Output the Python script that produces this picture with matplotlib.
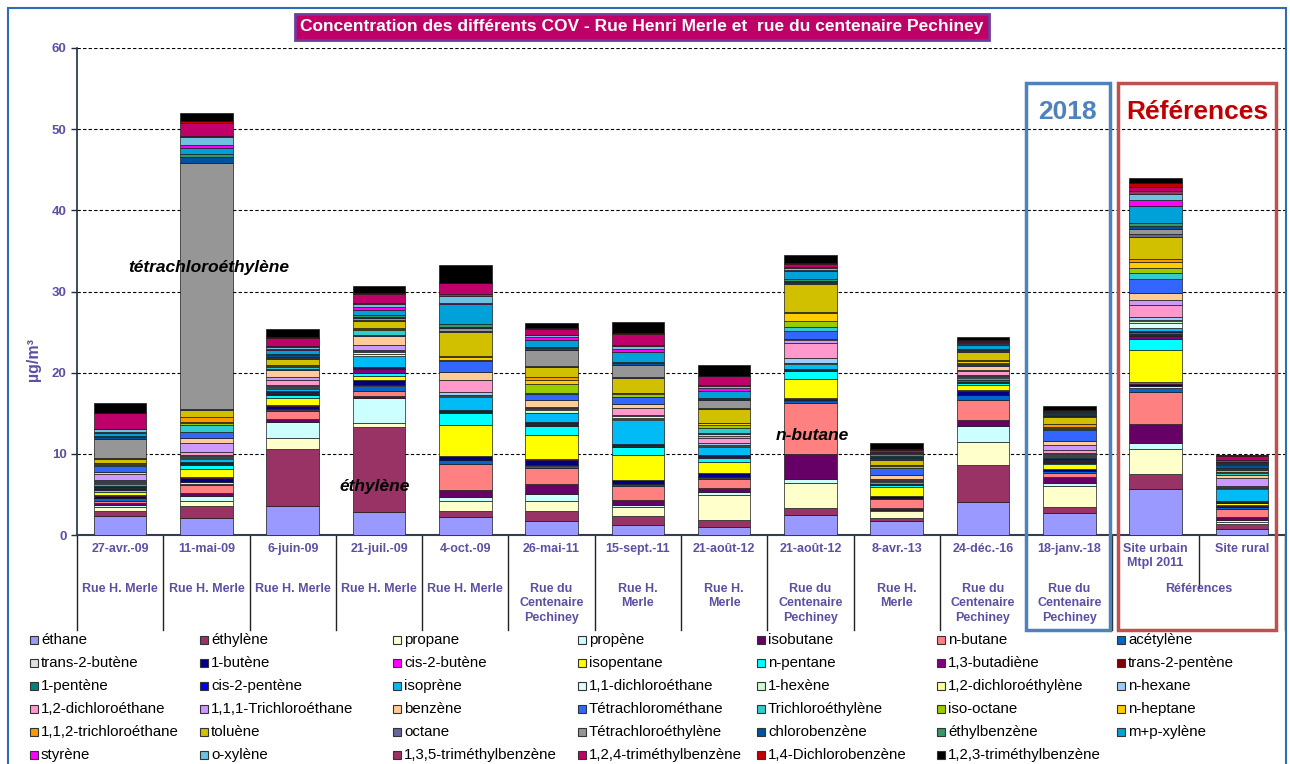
import numpy as np
import matplotlib
matplotlib.use("Agg")
import matplotlib.pyplot as plt
from matplotlib.patches import Rectangle

plt.rcParams['font.family'] = ['Liberation Sans', 'DejaVu Sans']

# Categories (x axis)
dates = ["27-avr.-09", "11-mai-09", "6-juin-09", "21-juil.-09", "4-oct.-09",
         "26-mai-11", "15-sept.-11", "21-août-12", "21-août-12", "8-avr.-13",
         "24-déc.-16", "18-janv.-18", "Site urbain\nMtpl 2011", "Site rural"]
sites = ["Rue H. Merle", "Rue H. Merle", "Rue H. Merle", "Rue H. Merle", "Rue H. Merle",
         "Rue du\nCentenaire\nPechiney", "Rue H.\nMerle", "Rue H.\nMerle",
         "Rue du\nCentenaire\nPechiney", "Rue H.\nMerle", "Rue du\nCentenaire\nPechiney",
         "Rue du\nCentenaire\nPechiney", "", ""]

# Concentrations (µg/m3), one list per compound, one value per sample
ethane = [2.35, 2.05, 3.57, 2.8, 2.25, 1.72, 1.2, 1.0, 2.46, 1.75, 4.1, 2.67, 5.67, 0.7]
ethylene = [0.65, 1.52, 6.98, 10.47, 0.75, 1.27, 1.2, 0.8, 0.82, 0.35, 4.5, 0.74, 1.85, 0.65]
propane = [0.5, 0.66, 1.45, 0.5, 1.2, 1.2, 1.0, 3.15, 3.08, 0.85, 2.8, 2.67, 3.04, 0.3]
propene = [0.15, 0.61, 1.97, 3.08, 0.5, 0.85, 0.3, 0.3, 0.5, 0.1, 2.05, 0.37, 0.82, 0.15]
isobutane = [0.25, 0.35, 0.3, 0.3, 0.9, 1.3, 0.6, 0.6, 3.08, 0.3, 0.7, 0.66, 2.26, 0.45]
n_butane = [0.35, 0.95, 1.0, 0.6, 3.2, 1.95, 1.75, 1.05, 6.36, 1.05, 2.45, 0.5, 3.96, 0.95]
acetylene = [0.25, 0.2, 0.15, 0.6, 0.4, 0.2, 0.15, 0.1, 0.25, 0.15, 0.6, 0.25, 0.55, 0.25]
trans2butene = [0.1, 0.2, 0.1, 0.1, 0.1, 0.1, 0.1, 0.1, 0.05, 0.05, 0.1, 0.05, 0.2, 0.05]
butene1 = [0.2, 0.5, 0.4, 0.6, 0.4, 0.7, 0.45, 0.5, 0.2, 0.15, 0.5, 0.2, 0.3, 0.1]
cis2butene = [0.1, 0.15, 0.1, 0.1, 0.05, 0.05, 0.05, 0.05, 0.05, 0.05, 0.05, 0.05, 0.15, 0.05]
isopentane = [0.45, 1.0, 0.8, 0.5, 3.85, 3.0, 3.1, 1.4, 2.4, 1.1, 0.65, 0.6, 4.0, 0.25]
n_pentane = [0.25, 0.4, 0.45, 0.25, 1.4, 1.1, 0.9, 0.4, 1.0, 0.2, 0.2, 0.15, 1.4, 0.1]
butadiene13 = [0.1, 0.1, 0.15, 0.5, 0.1, 0.1, 0.1, 0.1, 0.05, 0.05, 0.1, 0.1, 0.3, 0.05]
trans2pentene = [0.1, 0.1, 0.1, 0.1, 0.1, 0.1, 0.1, 0.1, 0.05, 0.05, 0.05, 0.1, 0.3, 0.05]
pentene1 = [0.15, 0.1, 0.1, 0.1, 0.1, 0.1, 0.1, 0.1, 0.05, 0.05, 0.2, 0.1, 0.15, 0.05]
cis2pentene = [0.1, 0.1, 0.1, 0.1, 0.1, 0.15, 0.1, 0.1, 0.05, 0.05, 0.1, 0.3, 0.15, 0.05]
isoprene = [0.2, 0.4, 0.25, 1.4, 1.6, 1.1, 3.0, 0.95, 0.6, 0.25, 0.2, 0.15, 0.35, 1.5]
dichloroethane11 = [0.1, 0.1, 0.1, 0.15, 0.1, 0.1, 0.1, 0.1, 0.05, 0.05, 0.1, 0.1, 0.65, 0.05]
hexene1 = [0.1, 0.1, 0.15, 0.1, 0.1, 0.3, 0.1, 0.1, 0.05, 0.05, 0.1, 0.1, 0.25, 0.05]
dichloroethylene12 = [0.1, 0.1, 0.1, 0.25, 0.1, 0.1, 0.2, 0.1, 0.05, 0.05, 0.05, 0.1, 0.2, 0.05]
n_hexane = [0.1, 0.15, 0.1, 0.1, 0.3, 0.1, 0.2, 0.2, 0.6, 0.05, 0.1, 0.1, 0.35, 0.05]
dichloroethane12 = [0.15, 0.35, 0.7, 0.15, 1.45, 0.1, 0.8, 0.7, 1.8, 0.1, 0.5, 0.4, 1.4, 0.1]
trichloroethane111 = [0.7, 1.2, 0.35, 0.5, 0.1, 0.1, 0.1, 0.25, 0.45, 0.1, 0.1, 0.6, 0.6, 1.05]
benzene = [0.25, 0.55, 0.8, 1.2, 0.9, 0.8, 0.5, 0.15, 0.15, 0.5, 0.55, 0.5, 0.9, 0.3]
tetrachloromethane = [0.8, 0.8, 0.15, 0.15, 1.35, 0.8, 0.75, 0.15, 0.9, 0.75, 0.15, 1.4, 1.75, 0.1]
trichloroethylene = [0.1, 0.85, 0.3, 0.5, 0.1, 0.1, 0.1, 0.6, 0.5, 0.1, 0.1, 0.15, 0.75, 0.2]
iso_octane = [0.1, 0.15, 0.1, 0.1, 0.1, 1.1, 0.3, 0.45, 0.8, 0.25, 0.1, 0.1, 0.6, 0.05]
n_heptane = [0.1, 0.2, 0.1, 0.1, 0.3, 0.5, 0.1, 0.15, 1.0, 0.05, 0.2, 0.1, 0.7, 0.05]
trichloroethane112 = [0.05, 0.65, 0.05, 0.1, 0.1, 0.35, 0.1, 0.1, 0.05, 0.05, 0.1, 0.4, 0.35, 0.05]
toluene = [0.5, 0.8, 0.75, 0.9, 3.05, 1.3, 1.8, 1.65, 3.45, 0.6, 1.05, 0.8, 2.8, 0.2]
octane = [0.1, 0.1, 0.1, 0.1, 0.1, 0.1, 0.1, 0.15, 0.15, 0.1, 0.1, 0.1, 0.3, 0.15]
tetrachloroethylene = [2.3, 30.3, 0.1, 0.25, 0.35, 1.9, 1.55, 1.0, 0.15, 0.15, 0.1, 0.1, 0.7, 0.15]
chlorobenzene = [0.3, 0.8, 0.25, 0.15, 0.15, 0.3, 0.15, 0.15, 0.15, 0.15, 0.1, 0.1, 0.3, 0.3]
ethylbenzene = [0.1, 0.3, 0.1, 0.15, 0.3, 0.1, 0.15, 0.1, 0.2, 0.05, 0.1, 0.05, 0.35, 0.1]
mp_xylene = [0.4, 0.8, 0.5, 0.65, 2.5, 0.9, 1.25, 0.85, 1.0, 0.25, 0.45, 0.15, 2.1, 0.2]
styrene = [0.1, 0.3, 0.1, 0.35, 0.1, 0.35, 0.35, 0.3, 0.15, 0.05, 0.1, 0.1, 0.75, 0.05]
o_xylene = [0.3, 1.0, 0.3, 0.45, 0.9, 0.2, 0.4, 0.3, 0.2, 0.1, 0.2, 0.1, 0.8, 0.1]
tmb135 = [0.1, 0.2, 0.15, 0.1, 0.25, 0.1, 0.1, 0.1, 0.1, 0.15, 0.1, 0.05, 0.3, 0.15]
tmb124 = [1.9, 1.6, 0.9, 1.1, 1.3, 0.7, 1.35, 1.1, 0.35, 0.2, 0.15, 0.1, 0.5, 0.55]
dichlorobenzene14 = [0.05, 0.2, 0.2, 0.1, 0.1, 0.1, 0.1, 0.1, 0.1, 0.1, 0.1, 0.05, 0.5, 0.05]
tmb123 = [1.2, 0.95, 1.0, 0.9, 2.2, 0.65, 1.4, 1.25, 1.0, 0.75, 0.4, 0.45, 0.6, 0.1]

species = ["éthane", "éthylène", "propane", "propène", "isobutane", "n-butane", "acétylène",
           "trans-2-butène", "1-butène", "cis-2-butène", "isopentane", "n-pentane", "1,3-butadiène", "trans-2-pentène",
           "1-pentène", "cis-2-pentène", "isoprène", "1,1-dichloroéthane", "1-hexène", "1,2-dichloroéthylène", "n-hexane",
           "1,2-dichloroéthane", "1,1,1-Trichloroéthane", "benzène", "Tétrachlorométhane", "Trichloroéthylène", "iso-octane", "n-heptane",
           "1,1,2-trichloroéthane", "toluène", "octane", "Tétrachloroéthylène", "chlorobenzène", "éthylbenzène", "m+p-xylène",
           "styrène", "o-xylène", "1,3,5-triméthylbenzène", "1,2,4-triméthylbenzène", "1,4-Dichlorobenzène", "1,2,3-triméthylbenzène"]
series = [ethane, ethylene, propane, propene, isobutane, n_butane, acetylene,
          trans2butene, butene1, cis2butene, isopentane, n_pentane, butadiene13, trans2pentene,
          pentene1, cis2pentene, isoprene, dichloroethane11, hexene1, dichloroethylene12, n_hexane,
          dichloroethane12, trichloroethane111, benzene, tetrachloromethane, trichloroethylene, iso_octane, n_heptane,
          trichloroethane112, toluene, octane, tetrachloroethylene, chlorobenzene, ethylbenzene, mp_xylene,
          styrene, o_xylene, tmb135, tmb124, dichlorobenzene14, tmb123]
colors = ["#9999FF", "#993366", "#FFFFCC", "#CCFFFF", "#660066", "#FF8080", "#0066CC",
          "#E0E0E0", "#000080", "#FF00FF", "#FFFF00", "#00FFFF", "#800080", "#800000",
          "#008080", "#0000FF", "#00BBF5", "#DDFFFF", "#CCFFCC", "#FFFF99", "#99CCFF",
          "#FF99CC", "#CC99FF", "#FFCC99", "#3366FF", "#33CCCC", "#99CC00", "#FFCC00",
          "#FF9900", "#D0C000", "#666699", "#969696", "#00529E", "#339966", "#00A0D8",
          "#FF00FF", "#70C0E0", "#993366", "#C0006A", "#C00000", "#000000"]

W, H = 1290, 764
PURPLE = "#5E4FA2"

fig = plt.figure(figsize=(W / 100, H / 100), dpi=100)
ax = fig.add_axes([77 / W, 1 - 535 / H, (1285 - 77) / W, (535 - 48) / H])

x = np.arange(len(dates))
bottom = np.zeros(len(dates))
for vals, col in zip(series, colors):
    vals = np.array(vals)
    ax.bar(x, vals, 0.61, bottom=bottom, color=col, edgecolor="#1a1a1a",
           linewidth=0.5, zorder=3)
    bottom += vals

ax.set_xlim(-0.5, 13.5)
ax.set_ylim(0, 60)
ax.set_yticks(np.arange(0, 61, 10))
ax.set_yticklabels([str(v) for v in range(0, 61, 10)], fontsize=9.5,
                   fontweight="bold", color=PURPLE)
ax.set_xticks([])
ax.tick_params(axis="y", length=4, width=1, color="#1F2F3F")
ax.yaxis.grid(True, linestyle=(0, (3, 2)), color="black", linewidth=0.8, zorder=1)
ax.spines["top"].set_visible(False)
ax.spines["right"].set_linestyle((0, (3, 2)))
ax.spines["right"].set_linewidth(0.6)
ax.spines["right"].set_color("#555555")
ax.spines["left"].set_color("#1F2F3F")
ax.spines["left"].set_linewidth(1.2)
ax.spines["bottom"].set_color("#2F3F4F")
ax.spines["bottom"].set_linewidth(1.5)

tr = ax.get_xaxis_transform()
# category separators below the axis
for k in range(len(dates) + 1):
    low = -0.107 if k == 13 else -0.195
    ax.plot([k - 0.5, k - 0.5], [0, low], transform=tr, color="#222222",
            linewidth=1, clip_on=False)

for i in range(len(dates)):
    ax.text(i, -0.016, dates[i], transform=tr, ha="center", va="top", fontsize=9,
            fontweight="bold", color=PURPLE, linespacing=1.25)
    if sites[i]:
        ax.text(i, -0.099, sites[i], transform=tr, ha="center", va="top", fontsize=9,
                fontweight="bold", color=PURPLE, linespacing=1.25)
ax.text(12.5, -0.099, "Références", transform=tr, ha="center", va="top", fontsize=9,
        fontweight="bold", color=PURPLE)

# highlight boxes
ax.add_patch(Rectangle((10.5, -0.195), 0.97, 0.928 + 0.195, transform=tr, fill=False,
                       edgecolor="#4F81BD", linewidth=2.5, clip_on=False, zorder=5))
ax.add_patch(Rectangle((11.56, -0.195), 1.83, 0.928 + 0.195, transform=tr, fill=False,
                       edgecolor="#C0504D", linewidth=2.5, clip_on=False, zorder=5))
ax.text(10.98, 0.869, "2018", transform=tr, ha="center", va="center", fontsize=19,
        fontweight="bold", color="#4F81BD")
ax.text(12.48, 0.869, "Références", transform=tr, ha="center", va="center", fontsize=19,
        fontweight="bold", color="#C00000")

# annotations
ax.text(1.03, 32.9, "tétrachloroéthylène", ha="center", va="center", fontsize=12.5,
        fontweight="bold", fontstyle="italic", zorder=6)
ax.text(2.95, 6.0, "éthylène", ha="center", va="center", fontsize=12.5,
        fontweight="bold", fontstyle="italic", zorder=6)
ax.text(8.02, 12.3, "n-butane", ha="center", va="center", fontsize=12.5,
        fontweight="bold", fontstyle="italic", zorder=6)

# y label
fig.text(33 / W, 1 - 360 / H, "µg/m³", rotation=90, ha="center", va="center",
         fontsize=11.5, fontweight="bold", color=PURPLE)

# title
fig.text(642 / W, 1 - 27 / H,
         "Concentration des différents COV - Rue Henri Merle et  rue du centenaire Pechiney",
         ha="center", va="center", color="white", fontweight="bold", fontsize=12.5,
         bbox=dict(boxstyle="square,pad=0.3", facecolor="#BE0066",
                   edgecolor="#6E3C9C", linewidth=2))

# outer frame
fig.patches.append(Rectangle((8 / W, -0.05), (1286 - 8) / W, 1 - 8 / H + 0.05,
                             transform=fig.transFigure, fill=False,
                             edgecolor="#2E6DB4", linewidth=1.5))

# legend (row-major like the spreadsheet legend)
leg_x = [30, 200, 393, 578, 757, 937, 1117]
for i, (name, col) in enumerate(zip(species, colors)):
    r, c = divmod(i, 7)
    x0 = leg_x[c]
    y0 = 640 + 23 * r
    fig.patches.append(Rectangle((x0 / W, 1 - (y0 + 4) / H), 8 / W, 8 / H,
                                 transform=fig.transFigure, facecolor=col,
                                 edgecolor="#333333", linewidth=0.8))
    fig.text((x0 + 11) / W, 1 - y0 / H, name, va="center", fontsize=10.8)

fig.savefig("out.png", dpi=100)
